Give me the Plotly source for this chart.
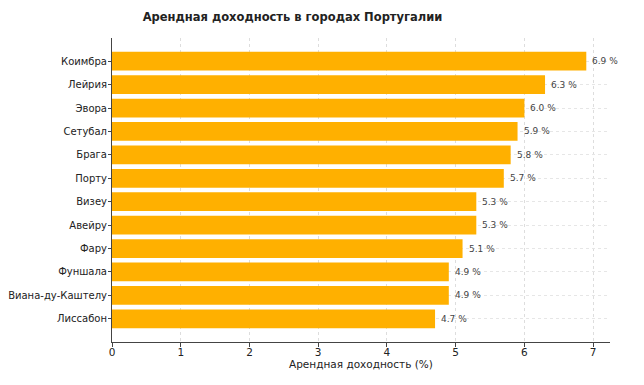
import plotly.graph_objects as go

cities = ["Коимбра", "Лейрия", "Эвора", "Сетубал", "Брага", "Порту", "Визеу",
          "Авейру", "Фару", "Фуншала", "Виана-ду-Каштелу", "Лиссабон"]
yields = [6.9, 6.3, 6.0, 5.9, 5.8, 5.7, 5.3, 5.3, 5.1, 4.9, 4.9, 4.7]
x_title = "Арендная доходность (%)"
chart_title = "Арендная доходность в городах Португалии"

# bottom-to-top order like the reference
cats = cities[::-1]
vals = yields[::-1]

font = "DejaVu Sans"
W, H = 636, 377  # page body has an 8px margin
fig = go.Figure(go.Bar(
    x=vals, y=cats, orientation="h",
    marker=dict(color="#FFB000", line=dict(width=0)),
    width=0.8,
))

for c, v in zip(cats, vals):
    fig.add_annotation(x=v, y=c, text=f"{v:.1f} %", xanchor="left", xshift=4,
                       showarrow=False, font=dict(family=font, size=9, color="#444"))

fig.add_annotation(x=0.5, y=-0.072, xref="paper", yref="paper", text=x_title,
                   showarrow=False, xanchor="center", yanchor="middle",
                   font=dict(family=font, size=10.5, color="#222"))

fig.update_layout(
    width=W, height=H,
    margin=dict(l=104, r=34, t=30, b=43, autoexpand=False),
    paper_bgcolor="white", plot_bgcolor="white",
    showlegend=False,
    title=dict(text=f"<b>{chart_title}</b>",
               x=284.5 / W, xanchor="center", xref="container",
               y=1 - 9 / H, yanchor="middle", yref="container",
               font=dict(family=font, size=11.5, color="#222")),
    font=dict(family=font, size=11, color="#222"),
)
fig.update_xaxes(
    range=[0, 7.245], dtick=1, tick0=0, automargin=False,
    showgrid=True, gridcolor="#dddddd", griddash="dot", gridwidth=1,
    showline=True, linecolor="#444", linewidth=1,
    ticks="outside", ticklen=4, tickcolor="#444",
    ticklabelstandoff=-4,
    zeroline=False,
    tickfont=dict(family=font, size=10.5, color="#222"),
)
fig.update_yaxes(
    range=[-0.99, 11.99], automargin=False,
    showgrid=True, gridcolor="#e6e6e6", griddash="dot", gridwidth=1,
    showline=True, linecolor="#444", linewidth=1,
    ticks="outside", ticklen=3, tickcolor="#444",
    ticklabelstandoff=-1,
    tickfont=dict(family=font, size=10, color="#222"),
)

fig.write_html("out.html")
